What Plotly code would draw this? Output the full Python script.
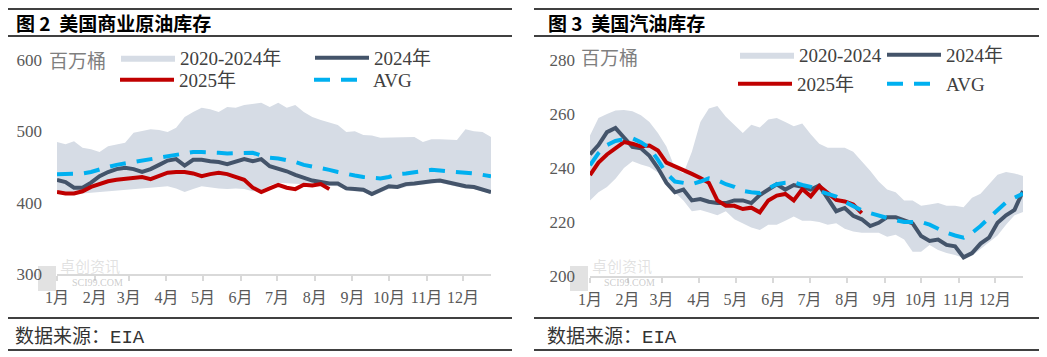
import pandas as pd
import plotly.graph_objects as go

# ---------------- data ----------------
weeks = pd.date_range("2025-01-01", periods=52, freq="7D")
month_ticks = pd.date_range("2025-01-01", periods=12, freq="MS")
month_labels = ["1月", "2月", "3月", "4月", "5月", "6月", "7月", "8月", "9月", "10月", "11月", "12月"]

# 图2 美国商业原油库存 (百万桶)
crude_hi = [485, 482, 486, 477, 475, 471, 479, 481, 484, 498, 500, 503, 502, 499, 505, 520, 527, 533,
            531, 527, 534, 533, 537, 538, 540, 534, 540, 533, 537, 527, 520, 516, 513, 509, 499, 500,
            495, 494, 491, 491, 492, 491, 492, 485, 489, 489, 489, 488, 503, 500, 499, 492]
crude_lo = [413, 412, 412, 413, 414, 415, 416, 417, 418, 418, 419, 421, 422, 423, 420, 415, 419, 423,
            421, 420, 419, 420, 419, 416, 417, 424, 428, 428, 427, 426, 425, 424, 423, 423, 417, 416,
            415, 409, 414, 419, 419, 422, 424, 426, 427, 428, 425, 422, 420, 419, 415, 412]
crude_2024 = [432, 429, 421, 421, 428, 437, 443, 447, 449, 447, 443, 447, 453, 459, 461, 452, 460, 460,
              458, 457, 454, 457, 461, 458, 461, 451, 448, 444, 439, 435, 431, 429, 427, 427, 420, 419,
              418, 412, 418, 423, 422, 426, 427, 429, 430, 431, 428, 425, 423, 422, 418, 415]
crude_2025 = [415, 413, 413, 416, 422, 426, 430, 432, 433, 435, 436, 433, 438, 442, 443, 443, 441, 437,
              440, 442, 440, 436, 432, 421, 415, 420, 425, 421, 419, 425, 424, 426, 419]
crude_avg = [440, 440, 440, 441, 443, 447, 450, 453, 455, 458, 460, 462, 463, 465, 467, 469, 471, 471,
             471, 470, 469, 469, 470, 470, 466, 463, 462, 460, 457, 453, 451, 449, 446, 443, 440, 438,
             436, 435, 434, 436, 440, 441, 443, 445, 446, 445, 444, 444, 443, 441, 439, 437]

# 图3 美国汽油库存 (百万桶)
gas_hi = [252, 258.5, 260, 261.3, 261.5, 261, 259.5, 257, 253, 248, 240, 238, 246, 257, 262, 263, 259,
          256, 253, 256, 255, 258, 258.5, 257, 255.5, 256.5, 252.5, 249, 247.5, 247.5, 247.5, 246,
          242.5, 239, 235, 232, 231, 228, 228, 226, 226.5, 227, 226, 226, 225.5, 229, 230.5, 234,
          237.5, 238.5, 238, 237]
gas_lo = [228, 231, 233, 236, 240, 242.5, 241.3, 240.4, 238.3, 234, 231, 228, 224, 224.4, 223.5, 222.5,
          224, 221, 219.5, 218, 217, 219, 219, 220.5, 222, 220.5, 220.5, 220, 219, 219.5, 217.5, 216.5,
          216, 216, 216, 214.5, 215.3, 213.5, 209, 209, 211.5, 209.6, 208.5, 207.8, 206.7, 207.5, 210,
          212.5, 215, 219, 222.5, 223.7]
gas_2024 = [245, 248.5, 253.3, 254.8, 251.3, 247.8, 247.3, 244.5, 240, 234.5, 231, 232, 228, 228.5,
            227.5, 227, 227, 228, 228, 227, 230, 232, 234, 232, 233.7, 233, 232, 233.5, 229, 224,
            225.2, 222.3, 221, 218.5, 219.7, 221.8, 221.8, 220.7, 219.5, 214.8, 213, 213.5, 211.5,
            211, 206.9, 208.5, 212, 214.2, 219.7, 222.5, 224.5, 231.5]
gas_2025 = [237.4, 242, 245, 247.5, 249.6, 249, 248, 248.3, 246.5, 242, 240.7, 239.5, 237.8, 236.3,
            234.5, 228, 226, 226, 224.8, 225.3, 223.6, 228, 229.8, 230.4, 228, 232.2, 229.5, 233.3,
            230.8, 228.2, 227.6, 226.5, 223.3]
gas_avg = [241, 245.5, 248.5, 250, 250.7, 251, 249.5, 247.5, 243, 238, 235, 234.4, 234, 235, 236.2,
           235.5, 234, 233, 231.5, 231, 230.7, 232.5, 234, 234.5, 234.7, 233.7, 233, 231.5, 230.5,
           229.4, 227.5, 225.8, 224.3, 223.3, 222.3, 221.5, 220.7, 220, 220, 220, 219, 217.5, 216,
           215, 214.2, 216, 218.5, 221.5, 224.3, 227.3, 229, 230.5]

# ---------------- styling ----------------
# page body has an 8px margin, so the figure is drawn 8px in from the window corner
OFF = 8
W, H = 1047 - OFF, 357 - OFF
C_BAND = "#d6dce5"
C_2024 = "#44546a"
C_2025 = "#c00000"
C_AVG = "#00b0f0"
SERIF = "Liberation Serif, Noto Sans CJK SC, serif"
CJK = "Noto Sans CJK SC, sans-serif"


def px(x):
    return (x - OFF) / W


def py(y):
    return 1 - (y - OFF) / H


fig = go.Figure()

wk = list(weeks)


def add_panel(xa, ya, hi, lo, s24, s25, avg, band_name, lg1, lg2):
    fig.add_trace(go.Scatter(
        x=wk + wk[::-1], y=hi + lo[::-1], fill="toself", fillcolor=C_BAND,
        line=dict(width=0, color=C_BAND), mode="lines", name=band_name,
        xaxis=xa, yaxis=ya, legend=lg1, hoverinfo="skip"))
    fig.add_trace(go.Scatter(
        x=wk, y=s24, mode="lines", name="2024年", line=dict(color=C_2024, width=4),
        xaxis=xa, yaxis=ya, legend=lg1))
    fig.add_trace(go.Scatter(
        x=wk[:len(s25)], y=s25, mode="lines", name="2025年", line=dict(color=C_2025, width=4),
        xaxis=xa, yaxis=ya, legend=lg2))
    fig.add_trace(go.Scatter(
        x=wk, y=avg, mode="lines", name="AVG", line=dict(color=C_AVG, width=4, dash="16px,11px"),
        xaxis=xa, yaxis=ya, legend=lg2))


add_panel("x", "y", crude_hi, crude_lo, crude_2024, crude_2025, crude_avg, "2020-2024年", "legend", "legend2")
add_panel("x2", "y2", gas_hi, gas_lo, gas_2024, gas_2025, gas_avg, "2020-2024", "legend3", "legend4")

xaxis_common = dict(
    range=[wk[0], wk[-1]], tickvals=list(month_ticks), ticktext=month_labels,
    showline=True, linecolor="#d9d9d9", linewidth=2, ticks="outside", ticklen=5,
    tickcolor="#d9d9d9", tickwidth=1.5, showgrid=False, zeroline=False, automargin=False,
    tickfont=dict(family=SERIF, size=16, color="#595959"), ticklabelstandoff=3,
)
yaxis_common = dict(showgrid=False, zeroline=False, showline=False, ticks="", automargin=False,
                    tickfont=dict(family=SERIF, size=17, color="#595959"), ticklabelstandoff=14)

fig.update_layout(
    width=W, height=H, margin=dict(l=0, r=0, t=0, b=0, pad=0, autoexpand=False),
    paper_bgcolor="white", plot_bgcolor="white",
    xaxis=dict(domain=[px(57), px(491)], anchor="y", **xaxis_common),
    yaxis=dict(domain=[py(274), py(60)], range=[300, 600], tickvals=[300, 400, 500, 600],
               anchor="x", **yaxis_common),
    xaxis2=dict(domain=[px(590), px(1023)], anchor="y2", **xaxis_common),
    yaxis2=dict(domain=[py(276), py(60)], range=[200, 280], tickvals=[200, 220, 240, 260, 280],
                anchor="x2", **yaxis_common),
)

leg_common = dict(orientation="h", xanchor="left", yanchor="middle", bgcolor="rgba(0,0,0,0)",
                  font=dict(family=SERIF, size=19, color="#404040"), itemwidth=54,
                  entrywidthmode="pixels", itemclick=False, itemdoubleclick=False,
                  tracegroupgap=0)
fig.update_layout(
    legend=dict(x=px(116), y=py(58), entrywidth=125, **leg_common),
    legend2=dict(x=px(115), y=py(80), entrywidth=125, **leg_common),
    legend3=dict(x=px(735), y=py(55), entrywidth=78, **leg_common),
    legend4=dict(x=px(733), y=py(84), entrywidth=80, **leg_common),
)

shapes = []
for x0, x1 in [(OFF, 512), (534, 1043)]:
    for yy in [5, 36, 318, 350]:
        shapes.append(dict(type="line", xref="paper", yref="paper", x0=px(x0), x1=px(x1),
                           y0=py(max(yy, OFF + 1)), y1=py(max(yy, OFF + 1)),
                           line=dict(color="black", width=1.5)))
# watermark logo blocks
for xx in [38, 570]:
    shapes.append(dict(type="rect", xref="paper", yref="paper", x0=px(xx), x1=px(xx + 18),
                       y0=py(291), y1=py(266), line=dict(width=0),
                       fillcolor="rgba(190,190,190,0.45)", layer="below"))
fig.update_layout(shapes=shapes)

ann = []
# titles
ann.append(dict(text="<b>图 2  美国商业原油库存</b>", x=px(15), y=py(22), xanchor="left", yanchor="middle",
                font=dict(family=CJK, size=19, color="black"), borderpad=0))
ann.append(dict(text="<b>图 3  美国汽油库存</b>", x=px(547), y=py(22), xanchor="left", yanchor="middle",
                font=dict(family=CJK, size=19, color="black"), borderpad=0))
# units
ann.append(dict(text="百万桶", x=px(47), y=py(59), xanchor="left", yanchor="middle",
                font=dict(family=CJK, size=19, color="#7f7f7f")))
ann.append(dict(text="百万桶", x=px(579), y=py(57), xanchor="left", yanchor="middle",
                font=dict(family=CJK, size=19, color="#7f7f7f")))
# source
for xx in [13, 545]:
    ann.append(dict(text="数据来源：<span style='font-family:Liberation Mono'>EIA</span>",
                    x=px(xx), y=py(335), xanchor="left", yanchor="middle",
                    font=dict(family=CJK, size=19, color="#333333")))
# watermark
for xx in [38, 570]:
    ann.append(dict(text="卓创资讯", x=px(xx + 20), y=py(265), xanchor="left", yanchor="middle",
                    font=dict(family=CJK, size=15, color="rgba(170,170,170,0.35)")))
    ann.append(dict(text="SCI99.COM", x=px(xx + 32), y=py(282), xanchor="left", yanchor="middle",
                    font=dict(family=SERIF, size=10, color="rgba(170,170,170,0.6)")))
for a in ann:
    a.update(xref="paper", yref="paper", showarrow=False)
fig.update_layout(annotations=ann)

fig.write_html("out.html")
